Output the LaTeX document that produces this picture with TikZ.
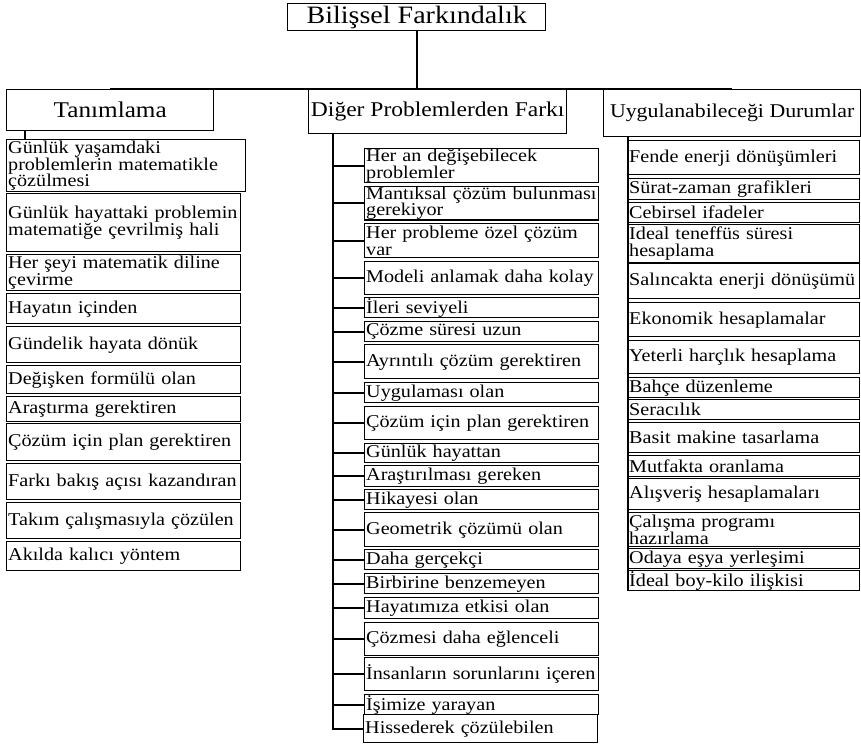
\documentclass[tikz,border=0pt]{standalone}
\usepackage{fontspec}
\setmainfont[FakeStretch=1.12]{Liberation Serif}

\begin{document}
\begin{tikzpicture}[x=1pt, y=-1pt,
    kutu/.style={draw, line width=1.4pt, anchor=north west, align=left, inner xsep=1.5pt, inner ysep=0pt, font=\fontsize{18}{16.8}\selectfont},
    sol/.style={kutu, text width=231pt},
    orta/.style={kutu, text width=231pt},
    sag/.style={kutu, text width=229pt},
    baslik/.style={draw, line width=1.4pt, anchor=north west, inner sep=0pt, font=\fontsize{21}{24}\selectfont},
    hat/.style={line width=2pt}]
    \useasboundingbox (0,0) rectangle (861,744);

    \node[baslik, minimum width=258pt, minimum height=27pt, font=\fontsize{25}{27}\selectfont] (kok) at (287,3) {Bilişsel Farkındalık};

    \node[baslik, minimum width=207pt, minimum height=41pt, font=\fontsize{22.5}{24}\selectfont] (tan) at (6,89) {Tanımlama};
    \node[baslik, minimum width=258pt, minimum height=44pt] (dig) at (308,89) {Diğer Problemlerden Farkı};
    \node[baslik, minimum width=257pt, minimum height=47pt, font=\fontsize{19.5}{22}\selectfont] (uyg) at (603,89) {Uygulanabileceği Durumlar};

    % Tanımlama
    \node[sol, text width=236pt, minimum height=52pt] (t1) at (6,139) {Günlük yaşamdaki\\ problemlerin matematikle\\ çözülmesi};
    \node[sol, minimum height=58pt] (t2) at (6,193) {\mbox{Günlük hayattaki problemin}\\ matematiğe çevrilmiş hali};
    \node[sol, minimum height=36pt] (t3) at (6,254) {Her şeyi matematik diline\\ çevirme};
    \node[sol, minimum height=30pt] (t4) at (6,293) {Hayatın içinden};
    \node[sol, minimum height=36pt] (t5) at (6,326) {Gündelik hayata dönük};
    \node[sol, minimum height=28pt] (t6) at (6,365) {Değişken formülü olan};
    \node[sol, minimum height=25pt] (t7) at (6,396) {Araştırma gerektiren};
    \node[sol, minimum height=37pt] (t8) at (6,423) {\mbox{Çözüm için plan gerektiren}};
    \node[sol, minimum height=36pt] (t9) at (6,463) {\mbox{Farkı bakış açısı kazandıran}};
    \node[sol, minimum height=36pt] (t10) at (6,502) {\mbox{Takım çalışmasıyla çözülen}};
    \node[sol, minimum height=29pt] (t11) at (6,541) {Akılda kalıcı yöntem};

    % Diğer problemlerden farkı
    \node[orta, minimum height=34pt] (d1) at (364,148) {Her an değişebilecek\\ problemler};
    \node[orta, minimum height=33pt] (d2) at (364,186) {\mbox{Mantıksal çözüm bulunması}\\ gerekiyor};
    \node[orta, minimum height=34pt] (d3) at (364,223) {Her probleme özel çözüm\\ var};
    \node[orta, minimum height=33pt] (d4) at (364,261) {\mbox{Modeli anlamak daha kolay}};
    \node[orta, minimum height=20pt] (d5) at (364,297) {İleri seviyeli};
    \node[orta, minimum height=20pt] (d6) at (364,321) {Çözme süresi uzun};
    \node[orta, minimum height=34pt] (d7) at (364,344) {\mbox{Ayrıntılı çözüm gerektiren}};
    \node[orta, minimum height=20pt] (d8) at (364,382) {Uygulaması olan};
    \node[orta, minimum height=33pt] (d9) at (364,406) {\mbox{Çözüm için plan gerektiren}};
    \node[orta, minimum height=19pt] (d10) at (364,443) {Günlük hayattan};
    \node[orta, minimum height=21pt] (d11) at (364,465) {Araştırılması gereken};
    \node[orta, minimum height=20pt] (d12) at (364,489) {Hikayesi olan};
    \node[orta, minimum height=34pt] (d13) at (364,512) {Geometrik çözümü olan};
    \node[orta, minimum height=20pt] (d14) at (364,549) {Daha gerçekçi};
    \node[orta, minimum height=20pt] (d15) at (364,573) {Birbirine benzemeyen};
    \node[orta, minimum height=21pt] (d16) at (364,597) {Hayatımıza etkisi olan};
    \node[orta, minimum height=33pt] (d17) at (364,622) {Çözmesi daha eğlenceli};
    \node[orta, minimum height=33pt] (d18) at (364,657) {\mbox{İnsanların sorunlarını içeren}};
    \node[orta, minimum height=20pt] (d19) at (364,694) {İşimize yarayan};
    \node[orta, minimum height=28pt] (d20) at (363,714) {Hissederek çözülebilen};

    % Uygulanabileceği durumlar
    \node[sag, minimum height=34pt] (u1) at (627,140) {Fende enerji dönüşümleri};
    \node[sag, minimum height=21pt] (u2) at (627,178) {Sürat-zaman grafikleri};
    \node[sag, minimum height=20pt] (u3) at (627,202) {Cebirsel ifadeler};
    \node[sag, minimum height=38pt] (u4) at (627,224) {Ideal teneffüs süresi\\ hesaplama};
    \node[sag, minimum height=35pt] (u5) at (627,263) {\mbox{Salıncakta enerji dönüşümü}};
    \node[sag, minimum height=34pt] (u6) at (627,302) {Ekonomik hesaplamalar};
    \node[sag, minimum height=33pt] (u7) at (627,340) {Yeterli harçlık hesaplama};
    \node[sag, minimum height=20pt] (u8) at (627,377) {Bahçe düzenleme};
    \node[sag, minimum height=20pt] (u9) at (627,399) {Seracılık};
    \node[sag, minimum height=30pt] (u10) at (627,422) {Basit makine tasarlama};
    \node[sag, minimum height=21pt] (u11) at (627,455) {Mutfakta oranlama};
    \node[sag, minimum height=31pt] (u12) at (627,478) {Alışveriş hesaplamaları};
    \node[sag, minimum height=34pt] (u13) at (627,512) {Çalışma programı\\ hazırlama};
    \node[sag, minimum height=20pt] (u14) at (627,548) {Odaya eşya yerleşimi};
    \node[sag, minimum height=20pt] (u15) at (627,570) {İdeal boy-kilo ilişkisi};

    % dallar
    \draw[hat] (kok.south) |- (tan.north);
    \draw[hat] (kok.south) |- (uyg.north);

    \coordinate (solbag) at ([xshift=19pt]tan.south west);
    \draw[hat] (solbag) -- (solbag |- t1.north);

    \coordinate (ortaomurga) at ([xshift=25pt]dig.south west);
    \draw[hat] (ortaomurga) |- (d20.west);
    \foreach \i in {1,...,19}
        \draw[hat] (ortaomurga |- d\i.west) -- (d\i.west);

    \coordinate (sagomurga) at ([xshift=25pt]uyg.south west);
    \draw[hat] (sagomurga) -- (sagomurga |- u15.south);
\end{tikzpicture}
\end{document}
